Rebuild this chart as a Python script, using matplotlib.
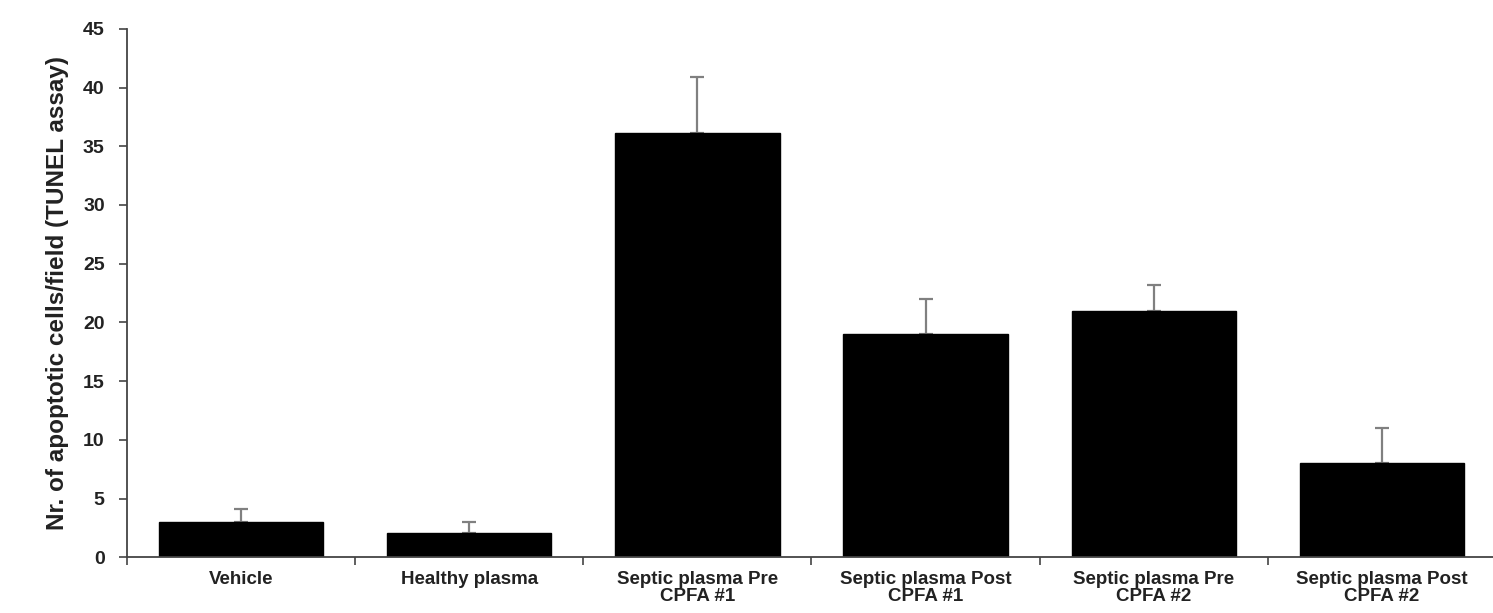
import numpy as np
import matplotlib
matplotlib.use("Agg")
from matplotlib import pyplot as plt

plt.rcParams['font.family'] = ['Liberation Sans', 'DejaVu Sans']

categories = ['Vehicle', 'Healthy plasma', 'Septic plasma Pre\nCPFA #1', 'Septic plasma Post\nCPFA #1',
              'Septic plasma Pre\nCPFA #2', 'Septic plasma Post\nCPFA #2']
means = [3.0, 2.1, 36.1, 19.0, 21.0, 8.0]
errors = [1.1, 0.9, 4.8, 3.0, 2.2, 3.0]

fig = plt.figure(figsize=(14.93, 6.13), dpi=100)
ax = fig.add_axes([0.085, 0.091, 0.917, 0.862])

x = np.arange(len(categories))
ax.bar(x, means, width=0.72, color='black', edgecolor='black', zorder=2)
# only the upper half of the error bar is shown
ax.errorbar(x, means, yerr=[np.zeros(len(errors)), errors], fmt='none',
            ecolor='#808080', elinewidth=1.6, capsize=5, capthick=1.6, zorder=1)

ax.set_xlim(-0.5, len(categories) - 0.5)
ax.set_ylim(0, 45)
ax.set_yticks(range(0, 46, 5))

# excel style: ticks between categories, labels centered
ax.set_xticks(np.arange(-0.5, len(categories), 1.0))
ax.set_xticklabels([])
ax.set_xticks(x, minor=True)
ax.set_xticklabels(categories, minor=True, fontsize=13.5, fontweight='bold', color='#222222',
                   linespacing=1.0)
ax.tick_params(axis='x', which='minor', length=0, pad=10)
ax.tick_params(axis='x', which='major', length=6, width=1.2, direction='out', color='#444444')
ax.tick_params(axis='y', length=6, width=1.2, direction='out', color='#444444', pad=10,
               labelsize=14)
for lab in ax.get_yticklabels():
    lab.set_fontweight('bold')
    lab.set_color('#222222')

for side in ['top', 'right']:
    ax.spines[side].set_visible(False)
for side in ['left', 'bottom']:
    ax.spines[side].set_color('#444444')
    ax.spines[side].set_linewidth(1.3)

ax.set_ylabel('Nr. of apoptotic cells/field (TUNEL assay)', fontsize=17.5, fontweight='bold',
              color='#222222', labelpad=10)

fig.savefig('out.png', dpi=100)
